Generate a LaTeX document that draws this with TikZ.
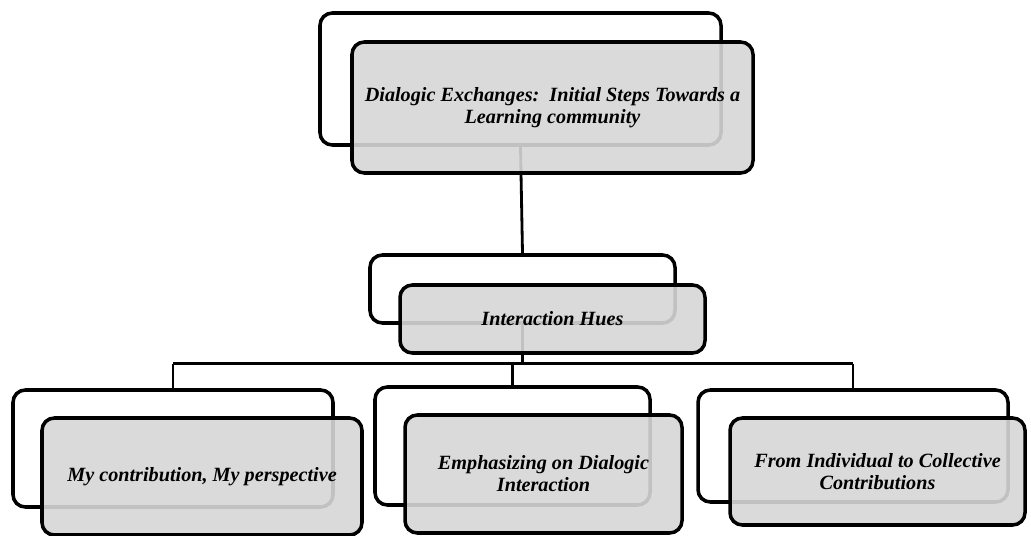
\documentclass[tikz,border=0pt]{standalone}
\usepackage{fontspec}
\setmainfont{Liberation Serif}
\begin{document}
\begin{tikzpicture}[
    backbox/.style={draw, line width=2pt, rounded corners=7pt, fill=white, inner sep=0pt},
    frontbox/.style={draw, line width=2pt, rounded corners=7pt, fill=black!16, fill opacity=0.9, text opacity=1, align=center, inner sep=0pt, font=\fontsize{11.5}{12.5}\selectfont\bfseries\itshape},
    link/.style={line width=1.6pt}
]
    \useasboundingbox (0, 0) rectangle (20.62, -10.72);
    \node[backbox, minimum width=8.02cm, minimum height=2.64cm] (topback) at (10.41, -1.58) {};
    \node[backbox, minimum width=6.1cm, minimum height=1.36cm] (midback) at (10.45, -5.78) {};
    \node[backbox, minimum width=6.4cm, minimum height=2.34cm] (leftback) at (3.46, -8.97) {};
    \node[backbox, minimum width=5.5cm, minimum height=2.36cm] (centerback) at (10.25, -8.92) {};
    \node[backbox, minimum width=6.2cm, minimum height=2.24cm] (rightback) at (17.06, -8.92) {};
    \draw[link] (topback.south) -- (midback.north);
    \draw[link] (midback.south) -- ++(0, -0.78) coordinate (bus);
    \draw[link] (bus -| leftback.north) -- (bus -| rightback.north);
    \draw[link] (bus -| leftback.north) -- (leftback.north);
    \draw[link] (bus -| centerback.north) -- (centerback.north);
    \draw[link] (bus -| rightback.north) -- (rightback.north);
    \node[frontbox, minimum width=8.02cm, minimum height=2.62cm] (topfront) at (11.05, -2.15) {Dialogic Exchanges:\ \ Initial Steps Towards a\\ Learning community};
    \node[frontbox, minimum width=6.1cm, minimum height=1.36cm] (midfront) at (11.05, -6.38) {Interaction Hues};
    \node[frontbox, minimum width=6.4cm, minimum height=2.34cm] (leftfront) at (4.04, -9.53) {My contribution, My perspective};
    \node[frontbox, minimum width=5.54cm, minimum height=2.36cm] (centerfront) at (10.87, -9.48) {Emphasizing on Dialogic\\ Interaction};
    \node[frontbox, minimum width=5.9cm, minimum height=2.14cm] (rightfront) at (17.55, -9.43) {From Individual to Collective\\ Contributions};
\end{tikzpicture}
\end{document}
